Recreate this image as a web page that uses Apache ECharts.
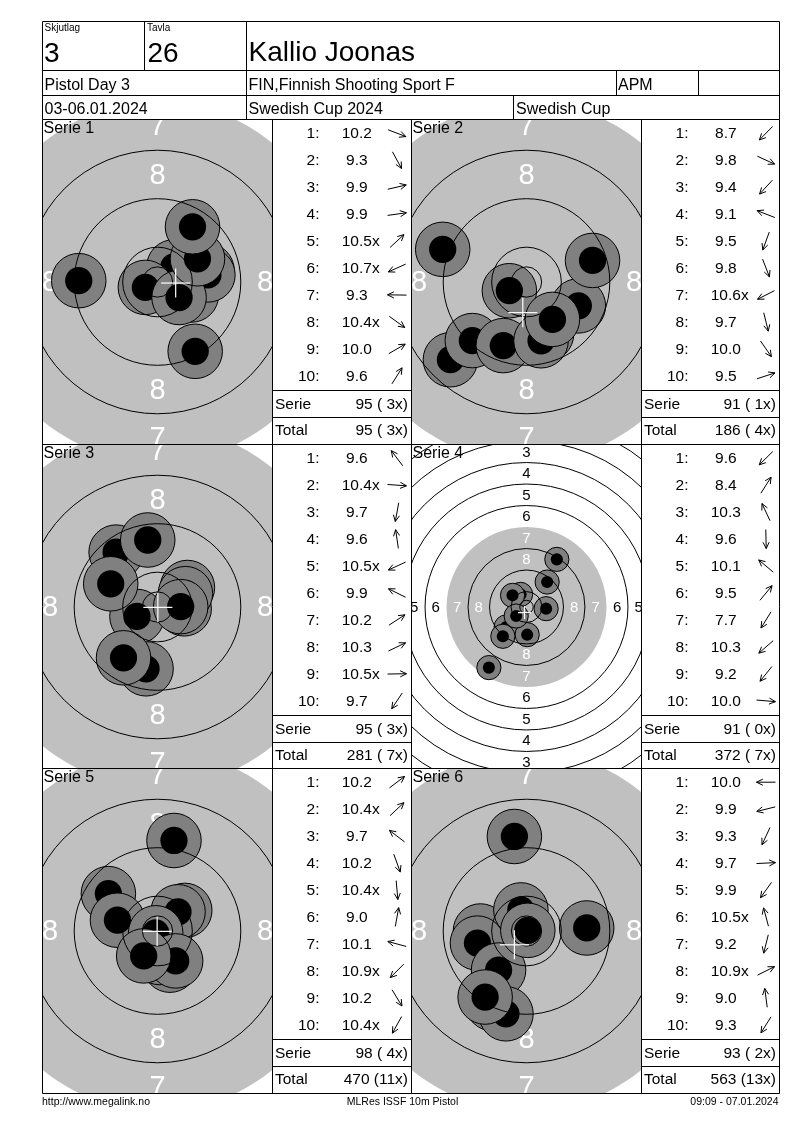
<!DOCTYPE html>
<html><head><meta charset="utf-8">
<script src="https://cdn.jsdelivr.net/npm/echarts@6/dist/echarts.min.js"></script>
<style>html,body{margin:0;padding:0;background:#fff}#c{width:800px;height:1130px}</style>
</head><body><div id="c"></div><script>
// ---------------- DATA ----------------
const serieNames = ['Serie 1','Serie 2','Serie 3','Serie 4','Serie 5','Serie 6'];
const scores = [
  [10.2, 9.3, 9.9, 9.9, 10.5, 10.7, 9.3, 10.4, 10.0, 9.6],
  [8.7, 9.8, 9.4, 9.1, 9.5, 9.8, 10.6, 9.7, 10.0, 9.5],
  [9.6, 10.4, 9.7, 9.6, 10.5, 9.9, 10.2, 10.3, 10.5, 9.7],
  [9.6, 8.4, 10.3, 9.6, 10.1, 9.5, 7.7, 10.3, 9.2, 10.0],
  [10.2, 10.4, 9.7, 10.2, 10.4, 9.0, 10.1, 10.9, 10.2, 10.4],
  [10.0, 9.9, 9.3, 9.7, 9.9, 10.5, 9.2, 10.9, 9.0, 9.3]
];
const innerTen = [
  [0,0,0,0,1,1,0,1,0,0],
  [0,0,0,0,0,0,1,0,0,0],
  [0,1,0,0,1,0,0,0,1,0],
  [0,0,0,0,0,0,0,0,0,0],
  [0,1,0,0,1,0,0,1,0,1],
  [0,0,0,0,0,1,0,1,0,0]
];
// shot centres in mm from target centre (x right, y up)
const shotX = [
  [5.6, 6.22, 8.18, 8.32, 2.7, -2.0, -13.0, 3.56, 6.6, 5.78],
  [-12.56, 8.56, -8.94, -13.83, -3.83, 3.3, -2.83, 2.4, 4.28, 10.9],
  [-6.83, 4.4, -1.89, -1.61, -3.39, -7.72, 4.94, 4.6, 3.83, -5.61],
  [-7.56, 11.28, -2.2, 0.25, -5.2, 7.68, -14.0, -3.84, -8.8, 7.31],
  [4.5, 3.39, -8.11, 2.05, 0.38, 2.72, -6.61, -0.3, 3.0, -2.28],
  [-7.6, -8.1, -5.6, 9.94, -4.61, -0.93, -3.39, 0.22, -2.0, -6.83]
];
const shotY = [
  [-2.15, -11.44, 1.89, 1.17, 2.5, -0.89, 0.22, -2.56, 3.83, 9.11],
  [-12.83, -3.94, -9.67, 5.39, -10.5, -8.6, -1.44, -9.7, -6.17, 3.56],
  [9.06, -0.3, -10.2, 11.06, -1.56, 3.83, 3.22, 2.2, 0.06, -8.39],
  [-7.43, 17.72, 4.7, -10.29, 4.34, 9.29, -22.55, -3.35, -10.9, -0.62],
  [3.4, 3.17, 6.17, -5.64, -4.38, 14.94, 1.78, -0.3, -4.94, -4.11],
  [0.0, -2.0, -12.0, 0.5, -6.44, 3.48, -13.67, 0.11, 15.6, -10.9]
];
// mean point of impact (white cross), mm
const mpiX = [3.0, -0.61, 0.06, -0.74, -0.06, -2.0];
const mpiY = [-0.17, -5.06, -0.06, -2.1, -0.06, -2.28];
const serieTotals = [95, 91, 95, 91, 98, 93];
const serieXCount = [3, 1, 3, 0, 4, 2];
const runTotals = [95, 186, 281, 372, 470, 563];
const runXCount = [3, 4, 7, 7, 11, 13];
// ISSF 10m pistol target rings (outer radius, mm)
const ringNumbers = [10, 9, 8, 7, 6, 5, 4, 3, 2, 1];
const ringRadiusMm = [5.75, 13.75, 21.75, 29.75, 37.75, 45.75, 53.75, 61.75, 69.75, 77.75];
const innerTenRadiusMm = 2.5;
const blackRingNumber = 7;
const header = {
  skjutlagLabel: 'Skjutlag', skjutlag: '3', tavlaLabel: 'Tavla', tavla: '26',
  name: 'Kallio Joonas', event: 'Pistol Day 3', club: 'FIN,Finnish Shooting Sport F',
  cls: 'APM', date: '03-06.01.2024', competition: 'Swedish Cup 2024', cup: 'Swedish Cup'
};
const footer = ['http://www.megalink.no', 'MLRes ISSF 10m Pistol', '09:09 - 07.01.2024'];

// ---------------- LAYOUT ----------------
const FONT = '"Liberation Sans", Arial, sans-serif';
const panelCols = [42.5, 411.5];
const tableCols = [272.5, 641.5];
const tableRights = [411.5, 779.5];
const rowTops = [119.5, 444.5, 768.5];
const gridW = 229, gridH = 324;
const viewHalfWidthMm = [18.9, 18.9, 18.9, 42.6, 18.9, 18.9];
const SHOT_R = 4.5, SHOT_CORE = 2.25, CROSS = 2.4, LABEL_MM = 4.8;

const grids = [], xAxes = [], yAxes = [], series = [], G = [];

function T(x, y, text, size, align, color) {
  G.push({type: 'text', x: x, y: y, silent: true, z: 100,
    style: {text: text, fill: color || '#000', font: size + 'px ' + FONT,
      align: align || 'left', verticalAlign: 'middle'}});
}
function L(x1, y1, x2, y2) {
  G.push({type: 'line', silent: true, z: 101,
    shape: {x1: x1, y1: y1, x2: x2, y2: y2}, style: {stroke: '#000', lineWidth: 1}});
}
function arrow(cx, cy, ang) {
  const Lh = 9.5, H = 7, a = 0.45;
  const ux = Math.cos(ang), uy = -Math.sin(ang);
  const hx = cx + ux * Lh, hy = cy + uy * Lh, tx = cx - ux * Lh, ty = cy - uy * Lh;
  const b1 = ang + Math.PI - a, b2 = ang + Math.PI + a;
  const p1 = [hx + Math.cos(b1) * H, hy - Math.sin(b1) * H];
  const p2 = [hx + Math.cos(b2) * H, hy - Math.sin(b2) * H];
  const st = {stroke: '#000', lineWidth: 1, fill: null};
  G.push({type: 'polyline', silent: true, z: 101, shape: {points: [[tx, ty], [hx, hy]]}, style: st});
  G.push({type: 'polyline', silent: true, z: 101, shape: {points: [p1, [hx, hy], p2]}, style: st});
}

// render functions
function diskRender(params, api) {
  const c = api.coord([0, 0]);
  const r = api.size([api.value(2), 0])[0];
  return {type: 'circle', shape: {cx: c[0], cy: c[1], r: r}, style: {fill: '#c0c0c0', stroke: null}};
}
function labelRender(params, api) {
  const c = api.coord([0, 0]);
  const rr = api.size([api.value(2), 0])[0];
  const s = api.size([1, 0])[0];
  const fs = Math.max(15, LABEL_MM * s);
  const n = api.value(3);
  const col = n >= blackRingNumber ? '#ffffff' : '#000000';
  const pts = [[0, -rr], [0, rr], [-rr, 0], [rr, 0]];
  return {type: 'group', children: pts.map(p => ({type: 'text',
    style: {text: String(n), x: c[0] + p[0], y: c[1] + p[1] + fs * 0.04, fill: col,
      fontSize: fs, fontFamily: FONT, align: 'center', verticalAlign: 'middle'}}))};
}
function ringRender(params, api) {
  const c = api.coord([0, 0]);
  const r = api.size([api.value(2), 0])[0];
  return {type: 'circle', shape: {cx: c[0], cy: c[1], r: r},
    style: {fill: null, stroke: '#000', lineWidth: 1}};
}
function shotRender(params, api) {
  const c = api.coord([api.value(0), api.value(1)]);
  const R = api.size([SHOT_R, 0])[0], r = api.size([SHOT_CORE, 0])[0];
  const z = params.dataIndex * 2;
  return {type: 'group', children: [
    {type: 'circle', z2: z, shape: {cx: c[0], cy: c[1], r: R}, style: {fill: '#808080', stroke: '#000', lineWidth: 1}},
    {type: 'circle', z2: z + 1, shape: {cx: c[0], cy: c[1], r: r}, style: {fill: '#000', stroke: null}}
  ]};
}
function crossRender(params, api) {
  const c = api.coord([api.value(0), api.value(1)]);
  const a = api.size([CROSS, 0])[0];
  const st = {stroke: '#fff', lineWidth: 1.2};
  return {type: 'group', children: [
    {type: 'line', shape: {x1: c[0] - a, y1: c[1], x2: c[0] + a, y2: c[1]}, style: st},
    {type: 'line', shape: {x1: c[0], y1: c[1] - a, x2: c[0], y2: c[1] + a}, style: st}
  ]};
}

const blackIdx = ringNumbers.indexOf(blackRingNumber);
const diskData = [[0, 0, ringRadiusMm[blackIdx]]];
const labelData = [], ringData = [[0, 0, innerTenRadiusMm, 11]];
ringNumbers.forEach((n, k) => {
  if (n !== blackRingNumber) ringData.push([0, 0, ringRadiusMm[k], n]);
  if (n <= 8) labelData.push([0, 0, ringRadiusMm[k] - (ringRadiusMm[k] - ringRadiusMm[k - 1]) / 2, n]);
});

function fmtSum(v, x) { return v + ' (' + (x < 10 ? ' ' : '') + x + 'x)'; }

for (let i = 0; i < 6; i++) {
  const col = i % 2, row = Math.floor(i / 2);
  const pl = panelCols[col], rt = rowTops[row];
  grids.push({left: pl + 0.5, top: rt + 0.5, width: gridW, height: gridH});
  const hw = viewHalfWidthMm[i], hh = hw * gridH / gridW;
  xAxes.push({gridIndex: i, type: 'value', min: -hw, max: hw, show: false});
  yAxes.push({gridIndex: i, type: 'value', min: -hh, max: hh, show: false});
  const base = {type: 'custom', coordinateSystem: 'cartesian2d', xAxisIndex: i, yAxisIndex: i,
    clip: true, silent: true, animation: false};
  series.push(Object.assign({}, base, {name: serieNames[i] + ' disk', z: 1, data: diskData, renderItem: diskRender}));
  series.push(Object.assign({}, base, {name: serieNames[i] + ' labels', z: 2, data: labelData, renderItem: labelRender}));
  const shots = shotX[i].map((x, k) => [x, shotY[i][k], scores[i][k]]);
  series.push(Object.assign({}, base, {name: serieNames[i], z: 3, data: shots, renderItem: shotRender}));
  series.push(Object.assign({}, base, {name: serieNames[i] + ' rings', z: 4, data: ringData, renderItem: ringRender}));
  series.push(Object.assign({}, base, {name: serieNames[i] + ' mpi', z: 5, data: [[mpiX[i], mpiY[i]]], renderItem: crossRender}));

  // panel caption
  T(pl + 1, rt + 9, serieNames[i], 16, 'left');

  // score table
  const tl = tableCols[col], tr = tableRights[col];
  for (let k = 0; k < 10; k++) {
    const y = rt + 14.5 + k * 26.96;
    T(tl + 47, y, (k + 1) + ':', 15.5, 'right');
    T(tl + 84.3, y, scores[i][k].toFixed(1), 15.5, 'center');
    if (innerTen[i][k]) T(tl + 84.3 + 15.1, y, 'x', 15.5, 'left');
    arrow(tl + 124.5, y - 0.8, Math.atan2(shotY[i][k], shotX[i][k]));
  }
  L(tl, Math.floor(rt + 271) + 0.5, tr, Math.floor(rt + 271) + 0.5);
  L(tl, Math.floor(rt + 298) + 0.5, tr, Math.floor(rt + 298) + 0.5);
  T(tl + 2.5, rt + 285, 'Serie', 15.5, 'left');
  T(tr - 3.5, rt + 285, fmtSum(serieTotals[i], serieXCount[i]), 15.5, 'right');
  T(tl + 2.5, rt + 311, 'Total', 15.5, 'left');
  T(tr - 3.5, rt + 311, fmtSum(runTotals[i], runXCount[i]), 15.5, 'right');
}

// grid frame lines
[42.5, 272.5, 411.5, 641.5, 779.5].forEach(x => L(x, 119.5, x, 1093.5));
[119.5, 444.5, 768.5, 1093.5].forEach(y => L(42.5, y, 779.5, y));
// header frame
L(42.5, 21.5, 779.5, 21.5);
L(42.5, 21.5, 42.5, 119.5); L(779.5, 21.5, 779.5, 119.5);
L(42.5, 70.5, 779.5, 70.5); L(42.5, 95.5, 779.5, 95.5);
L(144.5, 21.5, 144.5, 70.5); L(246.5, 21.5, 246.5, 119.5);
L(616.5, 70.5, 616.5, 95.5); L(698.5, 70.5, 698.5, 95.5);
L(513.5, 95.5, 513.5, 119.5);
// header texts
T(44.5, 28, header.skjutlagLabel, 10);
T(44, 54, header.skjutlag, 28);
T(147, 28, header.tavlaLabel, 10);
T(147.5, 54, header.tavla, 28);
T(248.5, 53, header.name, 28);
T(44.5, 86, header.event, 16);
T(248.5, 86, header.club, 16);
T(618, 86, header.cls, 16);
T(44.5, 110, header.date, 16);
T(248.5, 110, header.competition, 16);
T(516, 110, header.cup, 16);
// footer
T(42, 1102, footer[0], 10.5, 'left');
T(402.5, 1102, footer[1], 10.5, 'center');
T(778.5, 1102, footer[2], 10.5, 'right');

const chart = echarts.init(document.getElementById('c'), null, {renderer: 'canvas'});
chart.setOption({
  animation: false,
  backgroundColor: '#ffffff',
  grid: grids, xAxis: xAxes, yAxis: yAxes,
  series: series,
  graphic: {elements: G}
});
</script></body></html>
